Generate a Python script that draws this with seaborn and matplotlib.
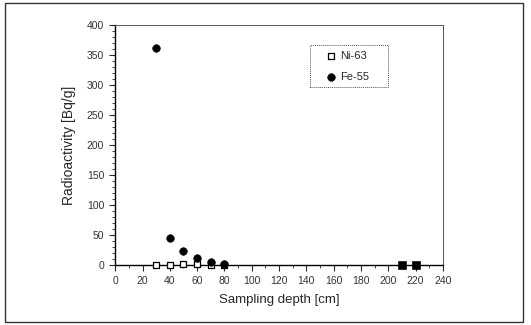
import numpy as np
import pandas as pd
import matplotlib
matplotlib.use("Agg")
import matplotlib.pyplot as plt
import seaborn as sns
from matplotlib.patches import Rectangle
from matplotlib.ticker import MultipleLocator

# datos
depth_shallow = [30, 40, 50, 60, 70, 80]
ni63 = [0.5, 0.5, 0.8, 0.8, 0.5, 0.5]
fe55 = [362, 44, 23, 12, 5, 2]
depth_deep = [210, 220]
deep_vals = [0.5, 0.5]

sns.set_theme(style="white")
plt.rcParams['font.family'] = ['Liberation Sans', 'DejaVu Sans']

fig = plt.figure(figsize=(5.31, 3.25), dpi=100)
ax = fig.add_axes([0.217, 0.185, 0.617, 0.738])

df_ni = pd.DataFrame({'depth': depth_shallow, 'val': ni63})
df_fe = pd.DataFrame({'depth': depth_shallow, 'val': fe55})
df_deep = pd.DataFrame({'depth': depth_deep, 'val': deep_vals})

sns.scatterplot(data=df_ni, x='depth', y='val', marker='s', s=24,
                facecolor='white', edgecolor='black', linewidth=0.9,
                label='Ni-63', ax=ax, zorder=3, clip_on=False)
sns.scatterplot(data=df_fe, x='depth', y='val', marker='o', s=30,
                color='black', edgecolor='black', label='Fe-55', ax=ax,
                zorder=4, clip_on=False)
sns.scatterplot(data=df_deep, x='depth', y='val', marker='s', s=32,
                color='black', edgecolor='black', ax=ax, zorder=4,
                legend=False, clip_on=False)

ax.set_xlim(0, 240)
ax.set_ylim(0, 400)
ax.xaxis.set_major_locator(MultipleLocator(20))
ax.xaxis.set_minor_locator(MultipleLocator(10))
ax.yaxis.set_major_locator(MultipleLocator(50))
ax.yaxis.set_minor_locator(MultipleLocator(10))
ax.tick_params(which='major', direction='out', length=4, width=0.8,
               labelsize=7.5, labelcolor='#333333', left=True, bottom=True, pad=4)
ax.tick_params(which='minor', direction='out', length=2, width=0.6,
               left=True, bottom=True)

for s in ['left', 'bottom']:
    ax.spines[s].set_color('black')
    ax.spines[s].set_linewidth(1.0)
for s in ['top', 'right']:
    ax.spines[s].set_color('#555555')
    ax.spines[s].set_linewidth(0.7)
    ax.spines[s].set_linestyle((0, (1, 1)))

ax.set_xlabel('Sampling depth [cm]', fontsize=9.5, labelpad=6)
ax.set_ylabel('Radioactivity [Bq/g]', fontsize=10, labelpad=8)

# leyenda sin marco + caja punteada aparte
leg = ax.legend(loc='upper left', bbox_to_anchor=(0.642, 0.892), fontsize=8,
                frameon=False, handletextpad=0.35, borderpad=0,
                borderaxespad=0, labelspacing=1.0, handlelength=1.0)
ax.add_patch(Rectangle((0.595, 0.742), 0.237, 0.175, transform=ax.transAxes,
                       fill=False, edgecolor='#555555', linewidth=0.7,
                       linestyle=(0, (1, 1)), clip_on=False, zorder=5))

# marco exterior
fig.patches.append(Rectangle((0.01, 0.01), 0.975, 0.98, transform=fig.transFigure,
                             fill=False, edgecolor='#333333', linewidth=1.0))

fig.savefig('out.png', dpi=100)
